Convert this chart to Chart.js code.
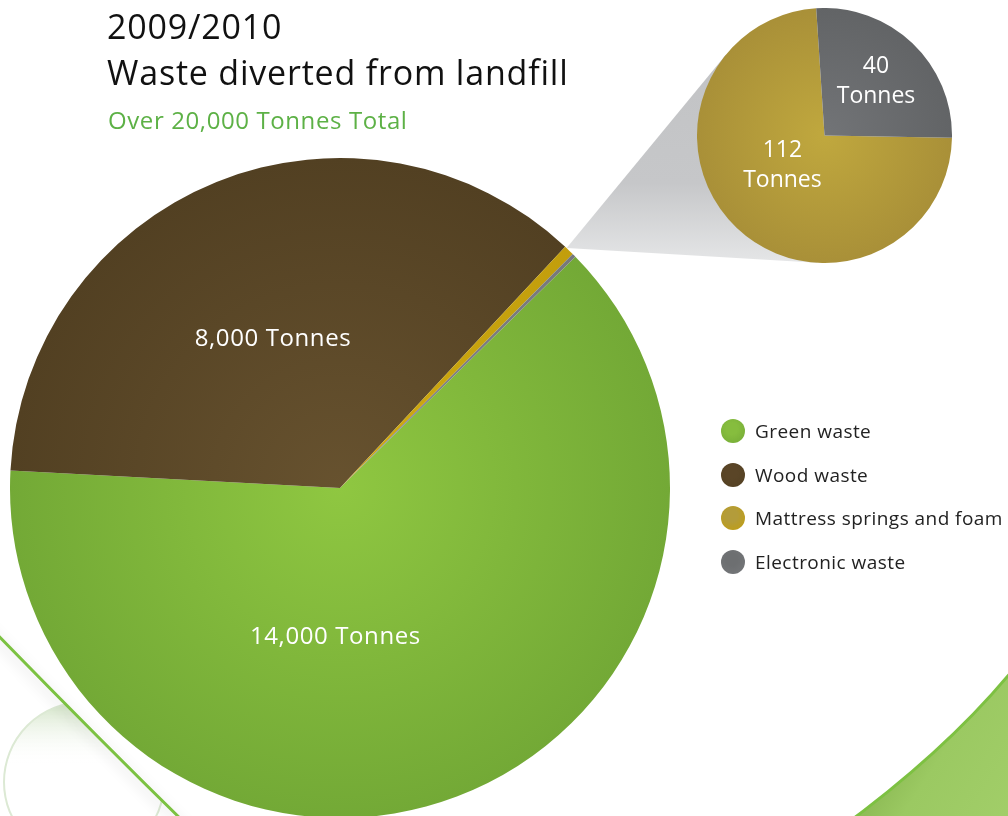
<!DOCTYPE html>
<html>
<head>
<meta charset="utf-8">
<script src="https://cdn.jsdelivr.net/npm/chart.js@4.4.0/dist/chart.umd.min.js"></script>
<style>
    body { margin: 0; width: 1008px; height: 816px; overflow: hidden; background: #fff; position: relative; font-family: 'Open Sans', Lato, sans-serif; }
    #main-chart { position: absolute; left: 0; top: 0; }
    #detail-chart { position: absolute; left: 697px; top: 8px; }
    .title { position: absolute; left: 107px; top: 3px; font-size: 34px; line-height: 46px; letter-spacing: 0.8px; color: #111; }
    .subtitle { position: absolute; left: 108px; top: 108px; font-size: 24px; line-height: 24px; letter-spacing: 0.6px; color: #5db146; }
    .legend-item { position: absolute; left: 721px; height: 24px; line-height: 24px; font-size: 19px; letter-spacing: 0.45px; color: #222; white-space: nowrap; }
    .legend-dot { display: inline-block; width: 24px; height: 24px; border-radius: 50%; vertical-align: top; margin-right: 10px; }
</style>
</head>
<body>
<canvas id="main-chart" width="1008" height="830"></canvas>
<canvas id="detail-chart" width="255" height="255"></canvas>
<div class="title">2009/2010<br>Waste diverted from landfill</div>
<div class="subtitle">Over 20,000 Tonnes Total</div>
<div id="legend"></div>
<script>
"use strict";

// Data
const categories = ['Green waste', 'Wood waste', 'Mattress springs and foam', 'Electronic waste'];
const tonnes = [14000, 8000, 112, 40];
const detailCategories = ['Mattress springs and foam', 'Electronic waste'];
const detailTonnes = [112, 40];

// inner / outer colours of each slice
const mainColors = [['#8fc741', '#73a936'], ['#67522f', '#524022'], ['#d0aa10', '#c29e0c'], ['#838588', '#76787b']];
const detailColors = [['#c0a83e', '#a99038'], ['#727477', '#626466']];
const legendColors = ['#86bd3e', '#5a4527', '#b39c3a', '#6d6f71'];

// radial shading from the pie centre
function radialFill(colors) {
    return (context) => {
        const chart = context.chart;
        const area = chart.chartArea;
        const pair = colors[context.dataIndex];
        if (!area) return pair[0];
        const cx = (area.left + area.right) / 2;
        const cy = (area.top + area.bottom) / 2;
        const r = Math.min(area.right - area.left, area.bottom - area.top) / 2;
        const g = chart.ctx.createRadialGradient(cx, cy, 0, cx, cy, r);
        g.addColorStop(0, pair[0]);
        g.addColorStop(1, pair[1]);
        return g;
    };
}

// white text on the slices, placed relative to the centre (in radius units)
function makeSliceText(cfg) {
    return {
        id: 'sliceText',
        afterDatasetsDraw(chart) {
            const meta = chart.getDatasetMeta(0);
            const ctx = chart.ctx;
            ctx.save();
            ctx.fillStyle = '#ffffff';
            ctx.font = cfg.font;
            ctx.letterSpacing = cfg.spacing || '0px';
            ctx.textAlign = 'center';
            ctx.textBaseline = 'middle';
            meta.data.forEach((arc, i) => {
                const off = cfg.offsets[i];
                if (!off) return;
                const value = chart.data.datasets[0].data[i];
                const lines = cfg.twoLines ? [value.toLocaleString('en-US'), 'Tonnes'] : [value.toLocaleString('en-US') + ' Tonnes'];
                const x = arc.x + off[0] * arc.outerRadius;
                const y = arc.y + off[1] * arc.outerRadius;
                lines.forEach((t, k) => {
                    ctx.fillText(t, x, y + (k - (lines.length - 1) / 2) * cfg.lineHeight);
                });
            });
            ctx.restore();
        }
    };
}

// Detail (zoom) pie
const detailCanvas = document.getElementById('detail-chart');
const detailChart = new Chart(detailCanvas, {
    type: 'pie',
    data: {
        labels: detailCategories,
        datasets: [{
            data: detailTonnes,
            backgroundColor: radialFill(detailColors),
            borderWidth: 0
        }]
    },
    options: {
        responsive: false,
        animation: false,
        rotation: 91,
        layout: { padding: 0 },
        plugins: { legend: { display: false }, tooltip: { enabled: false } }
    },
    plugins: [makeSliceText({ font: '23px "Open Sans"', lineHeight: 30, twoLines: true, offsets: [[-0.33, 0.235], [0.404, -0.42]] })]
});

// backdrop: connector wedge and the green swooshes
const backdrop = {
    id: 'backdrop',
    beforeDatasetsDraw(chart) {
        const ctx = chart.ctx;
        const W = chart.width;

        // connector from the small slices to the detail pie
        const arc = chart.getDatasetMeta(0).data[2];
        const mid = (arc.startAngle + arc.endAngle) / 2 - 0.01;
        const ax = arc.x + Math.cos(mid) * arc.outerRadius;
        const ay = arc.y + Math.sin(mid) * arc.outerRadius;
        const dArea = detailChart.chartArea;
        const cx = 697 + (dArea.left + dArea.right) / 2;
        const cy = 8 + (dArea.top + dArea.bottom) / 2;
        const r = (dArea.right - dArea.left) / 2;
        const d = Math.hypot(cx - ax, cy - ay);
        const base = Math.atan2(cy - ay, cx - ax);
        const half = Math.asin(r / d);
        const len = Math.sqrt(d * d - r * r);
        const t1 = [ax + len * Math.cos(base - half), ay + len * Math.sin(base - half)];
        const t2 = [ax + len * Math.cos(base + half), ay + len * Math.sin(base + half)];
        ctx.save();
        const wg = ctx.createLinearGradient(0, 60, 0, 265);
        wg.addColorStop(0, '#c2c3c5');
        wg.addColorStop(0.6, '#c6c7c9');
        wg.addColorStop(1, '#e6e7e8');
        ctx.fillStyle = wg;
        ctx.beginPath();
        ctx.moveTo(ax, ay);
        ctx.lineTo(t1[0], t1[1]);
        ctx.lineTo(cx, cy);
        ctx.lineTo(t2[0], t2[1]);
        ctx.closePath();
        ctx.fill();
        ctx.restore();

        // bottom-left pale ring, clipped below the green line
        ctx.save();
        ctx.beginPath();
        ctx.moveTo(-10, 627);
        ctx.quadraticCurveTo(95, 735, 192, 830);
        ctx.lineTo(-10, 830);
        ctx.closePath();
        ctx.clip();
        const pg = ctx.createLinearGradient(0, 705, 0, 765);
        pg.addColorStop(0, '#d6e6cb');
        pg.addColorStop(1, 'rgba(255,255,255,0)');
        ctx.fillStyle = pg;
        ctx.beginPath();
        ctx.arc(84, 782, 80, 0, Math.PI * 2);
        ctx.fill();
        ctx.strokeStyle = '#dce9d4';
        ctx.lineWidth = 2;
        ctx.stroke();
        ctx.restore();

        // bottom-left green line
        ctx.save();
        ctx.strokeStyle = '#7cc242';
        ctx.lineWidth = 3;
        ctx.shadowColor = 'rgba(0,0,0,0.18)';
        ctx.shadowBlur = 14;
        ctx.shadowOffsetX = -5;
        ctx.beginPath();
        ctx.moveTo(-10, 627);
        ctx.quadraticCurveTo(95, 735, 192, 830);
        ctx.stroke();
        ctx.restore();

        // bottom-right green swoosh
        ctx.save();
        const rg = ctx.createLinearGradient(900, 760, 1008, 830);
        rg.addColorStop(0, '#8fbd57');
        rg.addColorStop(0.25, '#9bc962');
        rg.addColorStop(1, '#a2ce69');
        ctx.fillStyle = rg;
        ctx.beginPath();
        ctx.moveTo(W + 4, 671);
        ctx.quadraticCurveTo(945, 752, 838, 830);
        ctx.lineTo(W + 4, 830);
        ctx.closePath();
        ctx.fill();
        ctx.strokeStyle = '#7dc142';
        ctx.lineWidth = 3;
        ctx.beginPath();
        ctx.moveTo(W + 4, 671);
        ctx.quadraticCurveTo(945, 752, 838, 830);
        ctx.stroke();
        ctx.restore();
    }
};

// Main pie
const mainChart = new Chart(document.getElementById('main-chart'), {
    type: 'pie',
    data: {
        labels: categories,
        datasets: [{
            data: tonnes,
            backgroundColor: radialFill(mainColors),
            borderWidth: 0
        }]
    },
    options: {
        responsive: false,
        animation: false,
        rotation: 45.5,
        layout: { padding: { left: 10, top: 158, right: 338, bottom: 12 } },
        plugins: { legend: { display: false }, tooltip: { enabled: false } }
    },
    plugins: [backdrop, makeSliceText({ font: '24px "Open Sans"', spacing: '0.6px', lineHeight: 28, twoLines: false, offsets: [[-0.014, 0.452], [-0.203, -0.452], null, null] })]
});

// Legend
const legend = document.getElementById('legend');
const legendTop = [431, 475, 518, 562];
categories.forEach((name, i) => {
    const item = document.createElement('div');
    item.className = 'legend-item';
    item.style.top = (legendTop[i] - 12) + 'px';
    const dot = document.createElement('span');
    dot.className = 'legend-dot';
    dot.style.background = 'radial-gradient(circle at 45% 40%, ' + legendColors[i] + ' 30%, ' + mainColors[i][1] + ' 100%)';
    item.appendChild(dot);
    item.appendChild(document.createTextNode(name));
    legend.appendChild(item);
});
</script>
</body>
</html>
